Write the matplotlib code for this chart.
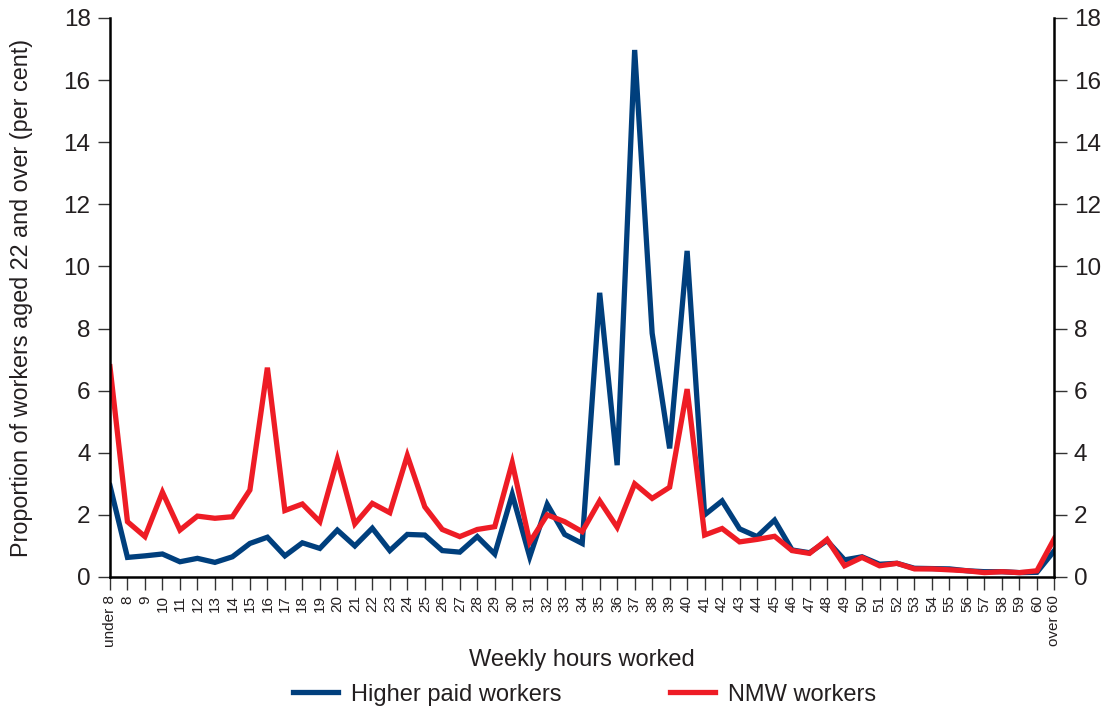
import matplotlib
matplotlib.use("Agg")
import matplotlib.pyplot as plt

plt.rcParams['font.family'] = ['Liberation Sans', 'DejaVu Sans']

hours = ["under 8"] + [str(h) for h in range(8, 61)] + ["over 60"]

higher_paid = [2.94, 0.63, 0.68, 0.74, 0.49, 0.60, 0.47, 0.65, 1.08, 1.28,
               0.68, 1.10, 0.92, 1.51, 1.00, 1.57, 0.85, 1.37, 1.35, 0.85,
               0.80, 1.30, 0.74, 2.66, 0.65, 2.34, 1.37, 1.08, 9.15, 3.60,
               16.97, 7.85, 4.14, 10.50, 2.00, 2.45, 1.55, 1.30, 1.83, 0.87,
               0.78, 1.17, 0.55, 0.65, 0.41, 0.44, 0.28, 0.27, 0.26, 0.20,
               0.17, 0.17, 0.14, 0.15, 0.85]

nmw = [6.77, 1.78, 1.30, 2.73, 1.51, 1.96, 1.89, 1.94, 2.80, 6.74,
       2.14, 2.35, 1.78, 3.79, 1.71, 2.37, 2.07, 3.91, 2.26, 1.53,
       1.30, 1.53, 1.62, 3.68, 1.12, 2.00, 1.78, 1.46, 2.45, 1.60,
       3.00, 2.53, 2.89, 6.05, 1.35, 1.56, 1.13, 1.21, 1.31, 0.85,
       0.76, 1.21, 0.36, 0.63, 0.36, 0.44, 0.26, 0.26, 0.23, 0.20,
       0.14, 0.17, 0.14, 0.20, 1.24]

blue = '#003f7d'
red = '#ee1c25'
txt = '#231f20'

fig = plt.figure(figsize=(11.12, 7.11), dpi=100)
ax = fig.add_axes([0.0989, 0.1885, 0.8493, 0.7862])

x = range(len(hours))
ax.plot(x, higher_paid, color=blue, lw=3.8, solid_joinstyle='miter',
        label='Higher paid workers')
ax.plot(x, nmw, color=red, lw=3.8, solid_joinstyle='miter',
        label='NMW workers')

ax.set_xlim(0, len(hours) - 1)
ax.set_ylim(0, 18)
ax.set_yticks(range(0, 19, 2))
ax.set_xticks(list(x))
ax.set_xticklabels(hours, rotation=90, fontsize=11, color=txt)

ax.spines['top'].set_visible(False)
for s in ['left', 'right', 'bottom']:
    ax.spines[s].set_linewidth(1.8)
    ax.spines[s].set_color('black')

ax.tick_params(axis='y', which='both', left=True, right=True,
               labelleft=True, labelright=True, direction='out',
               length=9, width=1, color='#333333', labelsize=17.5,
               labelcolor=txt, pad=5)
ax.tick_params(axis='x', direction='out', length=9, width=1,
               color='#333333', pad=4)

ax.set_ylabel('Proportion of workers aged 22 and over (per cent)',
              fontsize=16.8, color=txt)
ax.yaxis.set_label_coords(-0.081, 0.5)
ax.set_xlabel('Weekly hours worked', fontsize=17, color=txt)
ax.xaxis.set_label_coords(0.5, -0.148)
ax.xaxis.label.set_va('center')

fig.legend(loc='center', bbox_to_anchor=(0.526, 0.023), ncol=2,
           frameon=False, fontsize=17, handlelength=1.9,
           handletextpad=0.55, columnspacing=4.6, labelcolor=txt)

fig.savefig('out.png', dpi=100)
